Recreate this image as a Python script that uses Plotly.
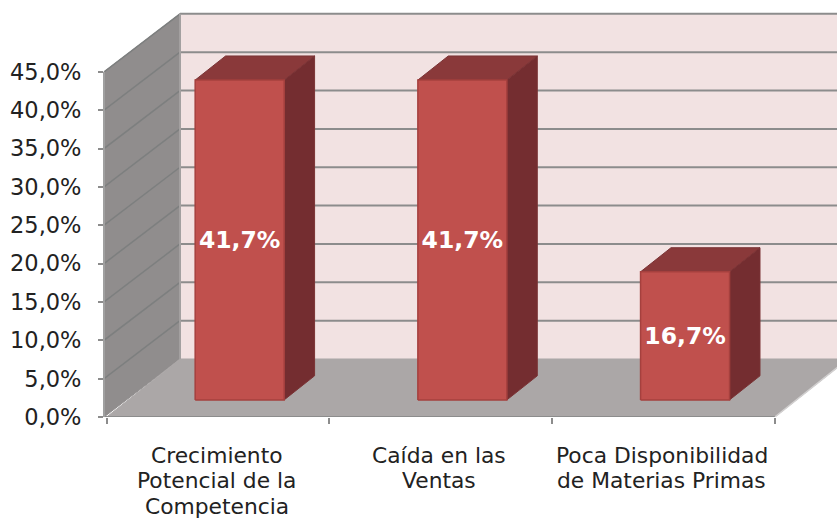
import plotly.graph_objects as go

categories = ["Crecimiento<br>Potencial de la<br>Competencia", "Caída en las<br>Ventas", "Poca Disponibilidad<br>de Materias Primas"]
values = [41.7, 41.7, 16.7]
value_labels = ["41,7%", "41,7%", "16,7%"]
tick_values = [0, 5, 10, 15, 20, 25, 30, 35, 40, 45]
tick_labels = ["0,0%", "5,0%", "10,0%", "15,0%", "20,0%", "25,0%", "30,0%", "35,0%", "40,0%", "45,0%"]

W, H = 837, 518
L, B = 104, 101
PX_X = 222.7
PX_Y = 7.67
DX = 73.3 / PX_X      # depth of the 3D box, in axis units
DY = 58 / PX_Y
D0, D1 = 0.295, 0.71  # front/back of the bars in depth
BAR = 89 / PX_X
x_low = -0.5 - 2.7 / PX_X
x_high = x_low + (W - L) / PX_X
y_high = (H - B) / PX_Y

BACK = "#f2e2e2"
WALL = "#908d8d"
WALL_GRID = "#7d7f7f"
FLOOR = "#aba7a7"
GRID = "#8c8c8c"
FRONT = "#c0504d"
SIDE = "#742d30"
TOP = "#8a393a"
EDGE = "#a5403e"
TEXT = "#222222"


def poly(fig, xs, ys, color, line=None, width=1):
    fig.add_trace(go.Scatter(
        x=xs + xs[:1], y=ys + ys[:1], mode="lines", fill="toself", fillcolor=color,
        line=dict(color=line or color, width=width), hoverinfo="skip", showlegend=False))


def seg(fig, xs, ys, color, width):
    fig.add_trace(go.Scatter(x=xs, y=ys, mode="lines", line=dict(color=color, width=width),
                             hoverinfo="skip", showlegend=False))


fig = go.Figure()
left = -0.5
right = len(categories) - 0.5
top = tick_values[-1]

poly(fig, [left + DX, right + DX, right + DX, left + DX], [DY, DY, top + DY, top + DY], BACK, BACK)
poly(fig, [x_low, left + DX, left + DX, x_low], [0, DY, top + DY, top], WALL, WALL)
poly(fig, [left, right, right + DX, left + DX], [0, 0, DY, DY], FLOOR, FLOOR)
seg(fig, [right, right + DX], [0, DY], "#d2d0d0", 1.5)

for v in tick_values[1:]:
    seg(fig, [x_low, left + DX], [v, v + DY], WALL_GRID, 1.5)
    seg(fig, [left + DX, right + DX], [v + DY, v + DY], GRID, 2)
seg(fig, [left + DX, left + DX], [DY, top + DY], "#a3a0a0", 2)

for i, v in enumerate(values):
    x0 = i - BAR / 2 + D0 * DX
    x1 = i + BAR / 2 + D0 * DX
    y0 = D0 * DY
    sx = (D1 - D0) * DX
    sy = (D1 - D0) * DY
    poly(fig, [x1, x1 + sx, x1 + sx, x1], [y0, y0 + sy, y0 + v + sy, y0 + v], SIDE, "#7a3335")
    poly(fig, [x0, x1, x1 + sx, x0 + sx], [y0 + v, y0 + v, y0 + v + sy, y0 + v + sy], TOP, "#7a3335")
    poly(fig, [x0, x1, x1, x0], [y0, y0, y0 + v, y0 + v], FRONT, EDGE, 1.5)

fig.add_trace(go.Scatter(
    x=[i + D0 * DX for i in range(len(values))],
    y=[D0 * DY + v / 2 - 0.3 for v in values],
    mode="text", text=value_labels,
    textfont=dict(family="DejaVu Sans", size=23.5, color="white", weight="bold"),
    hoverinfo="skip", showlegend=False))

annotations = []
for i, label in enumerate(categories):
    for j, line_text in enumerate(label.split("<br>")):
        annotations.append(dict(
            x=i, xref="x", y=0, yref="y", text=line_text, showarrow=False,
            xanchor="center", yanchor="middle", yshift=-(38 + 25.5 * j), xshift=-1.5,
            font=dict(family="DejaVu Sans", size=21.8, color=TEXT)))

fig.update_layout(
    width=W, height=H, autosize=False,
    margin=dict(l=L, r=0, t=0, b=B, pad=0),
    paper_bgcolor="white", plot_bgcolor="white",
    font=dict(family="DejaVu Sans", size=22.5, color=TEXT),
    showlegend=False,
    annotations=annotations,
    xaxis=dict(
        range=[x_low, x_high], tickmode="array", tickvals=[i - 0.5 for i in range(len(categories) + 1)],
        ticktext=[""] * (len(categories) + 1),
        ticks="outside", ticklen=6, tickwidth=2, tickcolor="#8c8c8c",
        showgrid=False, zeroline=False, showline=False,
    ),
    yaxis=dict(
        range=[0, y_high], tickmode="array", tickvals=tick_values, ticktext=tick_labels,
        ticks="outside", ticklen=5, tickwidth=2, tickcolor="#8c8c8c", showgrid=False,
        zeroline=False, showline=False,
        ticklabelstandoff=12,
    ),
)
fig.add_shape(type="line", xref="paper", yref="y", x0=0, x1=(right - x_low) / (x_high - x_low),
              y0=0, y1=0, line=dict(color="#8c8c8c", width=2), layer="above")
fig.add_shape(type="line", xref="paper", yref="y", x0=0, x1=0,
              y0=0, y1=top, line=dict(color="#a0a0a0", width=2), layer="above")
fig.write_html("out.html", config={"displayModeBar": False},
               post_script="document.body.style.margin='0';")
